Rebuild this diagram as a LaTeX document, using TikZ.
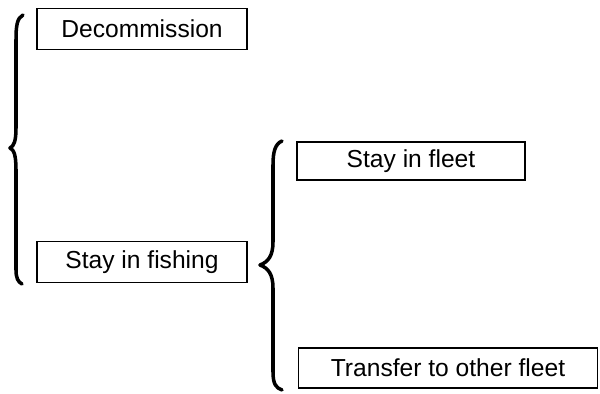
\documentclass[tikz,border=0pt]{standalone}
\usepackage{fontspec}
\setmainfont{Liberation Sans}
\usetikzlibrary{positioning}

\tikzset{
  choice/.style={draw, line width=0.6pt, minimum height=0.82cm, inner sep=0pt,
    font=\fontsize{14}{16}\selectfont},
  curly/.style={line width=2pt, line cap=round, line join=round}
}

\begin{document}
\begin{tikzpicture}[x=0.02cm, y=-0.02cm]
        \useasboundingbox (0,0) rectangle (600,394);
        % the options
        \node[choice, minimum width=4.2cm] (Dec) at (142,29) {Decommission};
        \node[choice, minimum width=4.2cm] (Fish) at (142,262) {Stay in fishing};
        \node[choice, minimum width=4.56cm, minimum height=0.76cm] (Fleet) at (411,161) {Stay in fleet};
        \node[choice, minimum width=6.0cm, minimum height=0.8cm] (Other) at (448,368) {Transfer to other fleet};
        % brace ends
        \coordinate (B1top) at (23,15);
        \coordinate (B1tip) at (10,148);
        \coordinate (B1bot) at (22,284);
        \coordinate (B2top) at (282,141);
        \coordinate (B2tip) at (260,265);
        \coordinate (B2bot) at (282,390);
        % braces
        \draw[curly] (B1top) .. controls (17,18) and (16,26) .. (16,40) -- (16,128)
            .. controls (16,141) and (14,146) .. (B1tip)
            .. controls (14,150) and (16,155) .. (16,170) -- (16,270)
            .. controls (16,278) and (18,282) .. (B1bot);
        \draw[curly] (B2top) .. controls (275,144) and (273,152) .. (273,165) -- (273,242)
            .. controls (273,256) and (268,262) .. (B2tip)
            .. controls (268,268) and (273,274) .. (273,288) -- (273,372)
            .. controls (273,384) and (276,388) .. (B2bot);
    \end{tikzpicture}
\end{document}
